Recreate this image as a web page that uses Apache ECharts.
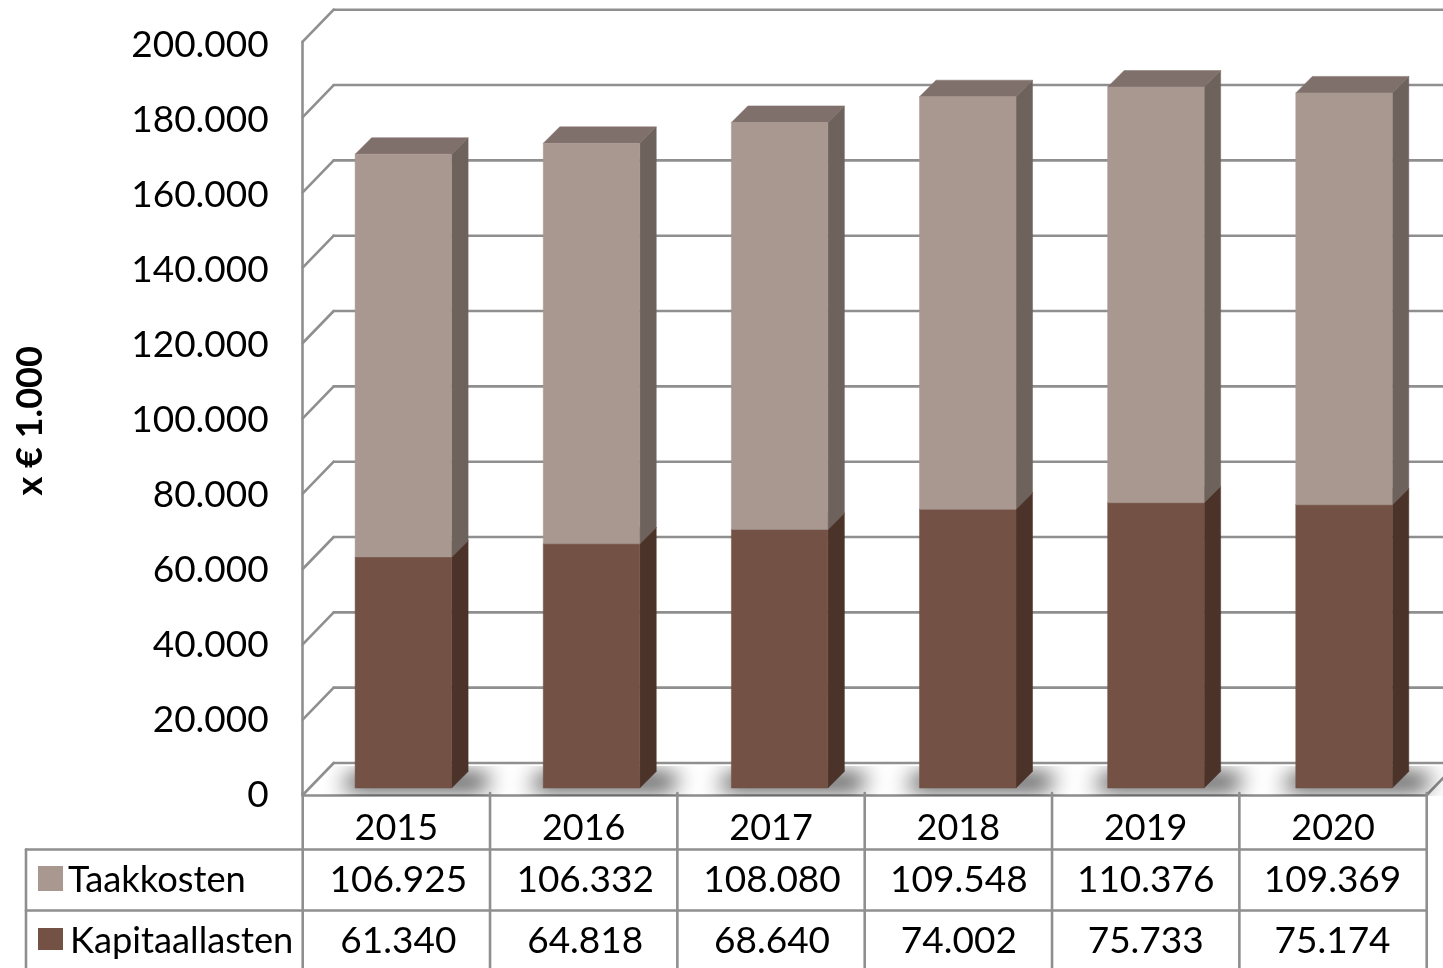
<!DOCTYPE html>
<html>
<head>
<meta charset="utf-8">
<style>html,body{margin:0;padding:0;background:#fff;overflow:hidden}#c{width:1443px;height:968px}</style>
<script src="https://cdn.jsdelivr.net/npm/echarts@6/dist/echarts.min.js"></script>
</head>
<body>
<div id="c"></div>
<script>
var years = ['2015','2016','2017','2018','2019','2020'];
var seriesNames = ['Taakkosten','Kapitaallasten'];
var taakkosten = [106925,106332,108080,109548,110376,109369];
var kapitaallasten = [61340,64818,68640,74002,75733,75174];
var yTicks = [0,20000,40000,60000,80000,100000,120000,140000,160000,180000,200000];

var FONT = 'Lato';
var GREY = '#8f8f8f';
function dotted(v){ return String(v).replace(/\B(?=(\d{3})+(?!\d))/g,'.'); }

var WALL = 31, WALLY = 32, SHIFT = 7, SPREAD = 0.8, DEPTH = 16.5, BARW = 96.5, ROW1 = 849.5, ROW2 = 910.5, ROW3 = 975;
var TX = 26, OFF = 3000;

function line(x1,y1,x2,y2,w){
  return {type:'line',shape:{x1:x1,y1:y1,x2:x2,y2:y2},style:{stroke:GREY,lineWidth:w||2.6,lineCap:'round'}};
}
function poly(pts,fill){
  return {type:'polygon',shape:{points:pts},style:{fill:fill,stroke:fill,lineWidth:0.5}};
}

function renderWall(params,api){
  var p = api.coord([0,api.value(0)]);
  var r = params.coordSys;
  var y = p[1], L = r.x, R = r.x + r.width;
  var kids = [
    line(L,y,L+WALL,y-WALLY),
    line(L+WALL,y-WALLY,R+WALL,y-WALLY)
  ];
  if (api.value(0) === 0) {
    kids.push(line(R,y,R+WALL,y-WALLY));
  }
  return {type:'group',children:kids};
}

function renderShadow(params,api){
  var i = api.value(0);
  var p = api.coord([i,0]);
  var r = params.coordSys;
  var cx = p[0]+SHIFT+SPREAD*i, y0 = p[1]-SHIFT;
  var floorY = r.y + r.height;
  var l = cx-BARW/2-14-OFF, rr = cx+BARW/2+DEPTH+16-OFF;
  return {
    type:'polygon',
    shape:{points:[[l,y0+1],[rr,y0+1],[rr+6,y0-13],[l+12,y0-13]]},
    style:{fill:'#000',shadowBlur:22,shadowColor:'rgba(15,15,15,1)',shadowOffsetX:OFF,shadowOffsetY:0},
    clipPath:{type:'rect',shape:{x:-OFF-200,y:floorY-WALLY+3,width:OFF*2+2000,height:WALLY-2}}
  };
}

function makeBar(front,top,side){
  return function(params,api){
    var i = api.value(0);
    var a = api.coord([i,api.value(1)]);
    var b = api.coord([i,api.value(2)]);
    var cx = a[0]+SHIFT+SPREAD*i, yb = a[1]-SHIFT, yt = b[1]-SHIFT;
    var l = cx-BARW/2, rr = cx+BARW/2;
    return {type:'group',children:[
      poly([[rr,yb],[rr+DEPTH,yb-DEPTH],[rr+DEPTH,yt-DEPTH],[rr,yt]],side),
      poly([[l,yt],[rr,yt],[rr+DEPTH,yt-DEPTH],[l+DEPTH,yt-DEPTH]],top),
      poly([[l,yb],[rr,yb],[rr,yt],[l,yt]],front)
    ]};
  };
}

function renderTable(params,api){
  var r = params.coordSys, L = r.x, R = r.x+r.width;
  var kids = [
    line(TX,ROW1,R,ROW1),
    line(TX,ROW2,R,ROW2),
    line(TX,ROW1,TX,ROW3)
  ];
  for (var i=0;i<=years.length;i++){
    var x = L + r.width*i/years.length;
    kids.push(line(x,r.y+r.height-2,x,ROW3));
  }
  return {type:'group',children:kids};
}

function makeCells(yc){
  return function(params,api){
    var i = api.value(0);
    var p = api.coord([i,0]);
    return {type:'text',x:p[0]+2-0.5*i,y:yc,style:{
      text:dotted(api.value(1)),font:'37px '+FONT,fill:'#000',align:'center',verticalAlign:'middle'}};
  };
}

function idx(arr){ return arr.map(function(v,i){return [i,v];}); }

var kapSeg = kapitaallasten.map(function(v,i){return [i,0,v];});
var taakSeg = taakkosten.map(function(v,i){return [i,kapitaallasten[i],kapitaallasten[i]+v];});

var option = {
  animation:false,
  backgroundColor:'#fff',
  textStyle:{fontFamily:FONT},
  grid:[
    {left:302.7,right:16.3,top:41.7,bottom:173,containLabel:false},
    {left:302.7,right:16.3,top:44.7,bottom:173,containLabel:false}
  ],
  xAxis:[{
    type:'category',data:years,boundaryGap:true,gridIndex:0,
    axisLine:{show:true,lineStyle:{color:GREY,width:2.6}},
    axisTick:{show:false},
    axisLabel:{fontSize:36,fontFamily:FONT,color:'#000',margin:15,lineHeight:36}
  },{
    type:'category',data:years,gridIndex:1,show:false
  }],
  yAxis:[{
    type:'value',min:0,max:200000,interval:20000,gridIndex:0,
    name:'x € 1.000',nameLocation:'middle',nameRotate:90,nameGap:254,
    nameTextStyle:{fontSize:36,fontWeight:700,fontFamily:FONT,color:'#000',padding:[0,5,0,0]},
    axisLine:{show:true,lineStyle:{color:GREY,width:2.6}},
    axisTick:{show:false},
    splitLine:{show:false},
    axisLabel:{show:false}
  },{
    type:'value',min:0,max:200000,interval:20000,gridIndex:1,
    axisLine:{show:false},
    axisTick:{show:false},
    splitLine:{show:false},
    axisLabel:{fontSize:37,fontFamily:FONT,color:'#000',margin:34,padding:[5,0,0,0],formatter:function(v){return dotted(v);}}
  }],
  series:[
    {type:'custom',name:'wall',silent:true,coordinateSystem:'cartesian2d',renderItem:renderWall,data:yTicks.map(function(v){return [v];}),encode:{y:0},z:1,clip:false},
    {type:'custom',name:'floor',silent:true,renderItem:renderShadow,data:idx(years.map(function(){return 0;})),encode:{x:0,y:1},z:2,clip:false},
    {type:'custom',name:seriesNames[1],renderItem:makeBar('#735145','#5e4338','#4c332a'),data:kapSeg,encode:{x:0,y:[1,2]},z:3,clip:false},
    {type:'custom',name:seriesNames[0],renderItem:makeBar('#a89890','#80706c','#6e625d'),data:taakSeg,encode:{x:0,y:[1,2]},z:4,clip:false},
    {type:'custom',name:'table',silent:true,renderItem:renderTable,data:[[0,0]],encode:{x:0,y:1},z:5,clip:false},
    {type:'custom',name:seriesNames[0]+' values',silent:true,renderItem:makeCells(880),data:idx(taakkosten),encode:{x:0},z:6,clip:false},
    {type:'custom',name:seriesNames[1]+' values',silent:true,renderItem:makeCells(941),data:idx(kapitaallasten),encode:{x:0},z:6,clip:false}
  ],
  graphic:[
    {type:'rect',shape:{x:38,y:866,width:25,height:25},style:{fill:'#a89890'},z:10},
    {type:'text',x:68,y:880,style:{text:seriesNames[0],font:'36.3px '+FONT,fill:'#000',verticalAlign:'middle'},z:10},
    {type:'rect',shape:{x:38,y:928,width:25,height:22},style:{fill:'#735145'},z:10},
    {type:'text',x:70,y:941,style:{text:seriesNames[1],font:'36.3px '+FONT,fill:'#000',verticalAlign:'middle'},z:10}
  ]
};
var chart = echarts.init(document.getElementById('c'),null,{renderer:'canvas'});
chart.setOption(option);
</script>
</body>
</html>
